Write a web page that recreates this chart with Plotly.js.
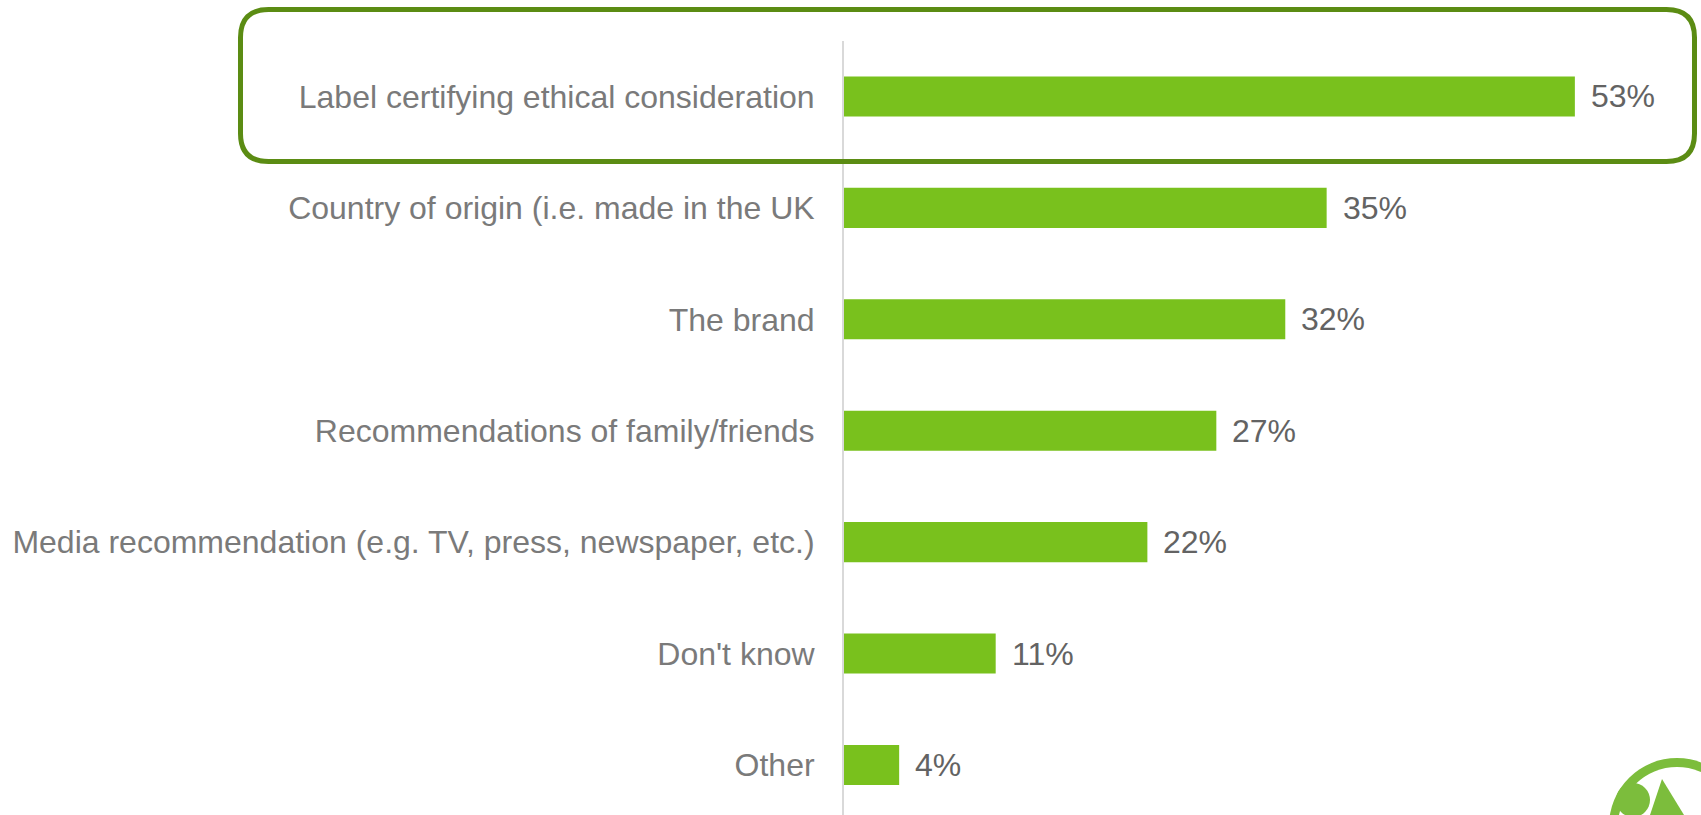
<!DOCTYPE html>
<html>
<head>
<meta charset="utf-8">
<script src="https://cdn.plot.ly/plotly-3.0.1.min.js"></script>
<style>html,body{margin:0;padding:0;background:#fff;}#chart{width:1701px;height:815px;}</style>
</head>
<body>
<div id="chart"></div>
<script>
const categories = [
  "Label certifying ethical consideration",
  "Country of origin (i.e. made in the UK",
  "The brand",
  "Recommendations of family/friends",
  "Media recommendation (e.g. TV, press, newspaper, etc.)",
  "Don't know",
  "Other"
];
const values = [53, 35, 32, 27, 22, 11, 4];
const valueLabels = ["53%", "35%", "32%", "27%", "22%", "11%", "4%"];

const W = 1701, H = 815;
const M = {l: 844, r: 30, t: 41, b: 0};
const pw = W - M.l - M.r, ph = H - M.t - M.b;
const px = v => (v - M.l) / pw;
const py = v => (H - M.b - v) / ph;

function roundRect(L, T, R, B, r) {
  const p = (x, y) => px(x).toFixed(5) + "," + py(y).toFixed(5);
  return "M" + p(L + r, T) + " L" + p(R - r, T) + " Q" + p(R, T) + " " + p(R, T + r) +
    " L" + p(R, B - r) + " Q" + p(R, B) + " " + p(R - r, B) +
    " L" + p(L + r, B) + " Q" + p(L, B) + " " + p(L, B - r) +
    " L" + p(L, T + r) + " Q" + p(L, T) + " " + p(L + r, T) + " Z";
}
function circ(cx, cy, r, color) {
  return {type: "circle", xref: "paper", yref: "paper", x0: px(cx - r), x1: px(cx + r),
    y0: py(cy + r), y1: py(cy - r), fillcolor: color, line: {width: 0}, layer: "above"};
}

const trace = {
  type: "bar", orientation: "h", y: categories, x: values,
  marker: {color: "#79c11d", line: {width: 0}},
  hoverinfo: "none"
};

const annotations = categories.map((c, i) => ({
  x: values[i], y: c, xref: "x", yref: "y", text: valueLabels[i],
  showarrow: false, xanchor: "left", yanchor: "middle", xshift: 14,
  font: {family: "Liberation Sans, Arial, sans-serif", size: 32, color: "#636363"}
}));

const shapes = [
  {type: "path", xref: "paper", yref: "paper", path: roundRect(240.5, 9.5, 1694.5, 161.5, 28),
   line: {color: "#5b8c13", width: 5}, fillcolor: "rgba(0,0,0,0)"},
  circ(1677, 826, 68, "#7cbd3c"),
  circ(1677, 826, 59, "#ffffff"),
  circ(1633, 800, 17, "#7cbd3c"),
  {type: "path", xref: "paper", yref: "paper",
   path: "M" + px(1662) + "," + py(779) + " L" + px(1684) + "," + py(815) + " L" + px(1650) + "," + py(815) + " Z",
   fillcolor: "#7cbd3c", line: {width: 0}, layer: "above"}
];

const layout = {
  width: W, height: H,
  margin: M,
  paper_bgcolor: "#ffffff", plot_bgcolor: "#ffffff",
  showlegend: false,
  bargap: 0.64,
  xaxis: {range: [0, pw / 13.79], showgrid: false, zeroline: false, showline: false,
          showticklabels: false, ticks: "", fixedrange: true},
  yaxis: {type: "category", range: [6.449, -0.498], showgrid: false, zeroline: false,
          showline: true, linecolor: "#d9d9d9", linewidth: 2,
          ticks: "outside", ticklen: 21, tickcolor: "rgba(0,0,0,0)",
          tickfont: {family: "Liberation Sans, Arial, sans-serif", size: 32, color: "#7a7a7a"},
          automargin: false, fixedrange: true},
  annotations: annotations,
  shapes: shapes
};

Plotly.newPlot("chart", [trace], layout, {displayModeBar: false, staticPlot: true});
</script>
</body>
</html>
